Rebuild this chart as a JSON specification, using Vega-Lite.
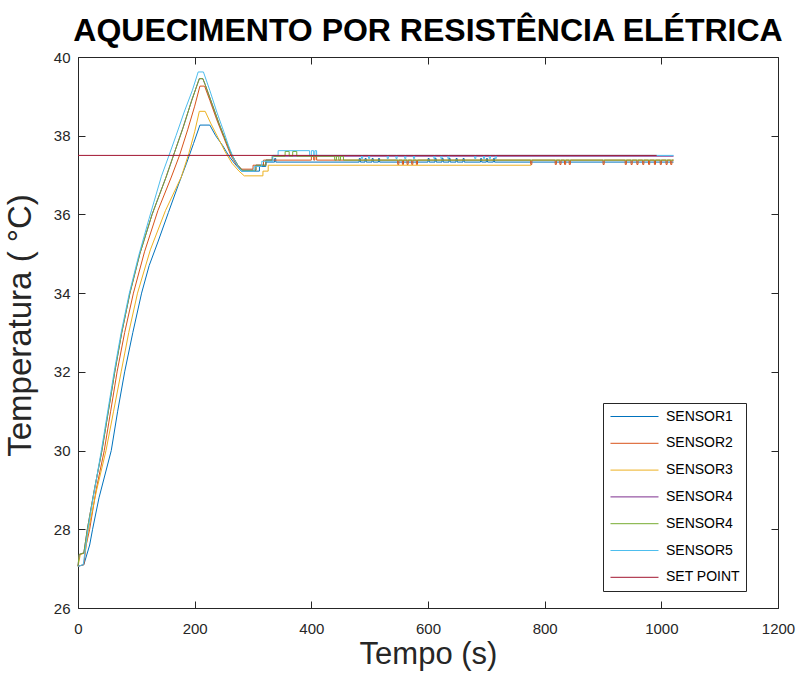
{
  "$schema": "https://vega.github.io/schema/vega-lite/v6.json",
  "width": 700,
  "height": 551,
  "autosize": "none",
  "padding": {"left": 78, "top": 57, "right": 22, "bottom": 65},
  "background": "white",
  "config": {
    "view": {"stroke": null},
    "font": "Liberation Sans",
    "axis": {
      "grid": false,
      "domainColor": "#262626",
      "tickColor": "#262626",
      "labelColor": "#262626",
      "labelFont": "Liberation Sans",
      "labelFontSize": 15,
      "labelFlush": false,
      "format": "d",
      "titleFont": "Liberation Sans",
      "titleFontWeight": "normal",
      "titleColor": "#262626",
      "tickSize": -7,
      "tickWidth": 1,
      "domainWidth": 1
    },
    "legend": {
      "orient": "none",
      "legendX": 525,
      "legendY": 346,
      "symbolType": "M-3.43,0H3.43",
      "symbolSize": 196,
      "symbolStrokeWidth": 1,
      "symbolOffset": 18,
      "labelFont": "Liberation Sans",
      "labelFontSize": 14,
      "labelColor": "#000000",
      "labelOffset": 24,
      "fillColor": "white",
      "strokeColor": "#262626",
      "padding": 6,
      "rowPadding": 11.8
    }
  },
  "title": {
    "text": "AQUECIMENTO POR RESISTÊNCIA ELÉTRICA",
    "font": "Liberation Sans",
    "fontSize": 32,
    "fontWeight": "bold",
    "color": "#000000",
    "anchor": "middle",
    "offset": 2
  },
  "data": {
    "values": [
      {"s": "s1", "t": 0, "v": 27.06}, {"s": "s1", "t": 10, "v": 27.1}, {"s": "s1", "t": 20, "v": 27.6}, {"s": "s1", "t": 25, "v": 28.0},
      {"s": "s1", "t": 36, "v": 28.8}, {"s": "s1", "t": 57, "v": 30.0}, {"s": "s1", "t": 68, "v": 31.0}, {"s": "s1", "t": 80, "v": 32.0},
      {"s": "s1", "t": 94, "v": 33.0}, {"s": "s1", "t": 109, "v": 34.0}, {"s": "s1", "t": 122, "v": 34.7}, {"s": "s1", "t": 137, "v": 35.3},
      {"s": "s1", "t": 155, "v": 36.05}, {"s": "s1", "t": 172, "v": 36.75}, {"s": "s1", "t": 186, "v": 37.3}, {"s": "s1", "t": 198, "v": 37.8},
      {"s": "s1", "t": 209, "v": 38.27}, {"s": "s1", "t": 226, "v": 38.27}, {"s": "s1", "t": 236, "v": 38.0}, {"s": "s1", "t": 248, "v": 37.75},
      {"s": "s1", "t": 258, "v": 37.5}, {"s": "s1", "t": 268, "v": 37.3}, {"s": "s1", "t": 280, "v": 37.1}, {"s": "s1", "t": 311, "v": 37.1},
      {"s": "s1", "t": 311.1, "v": 37.22}, {"s": "s1", "t": 322, "v": 37.22}, {"s": "s1", "t": 322.1, "v": 37.33},
      {"s": "s1", "t": 337, "v": 37.33}, {"s": "s1", "t": 337.1, "v": 37.42}, {"s": "s1", "t": 339, "v": 37.42}, {"s": "s1", "t": 339.1, "v": 37.33},
      {"s": "s1", "t": 482, "v": 37.33}, {"s": "s1", "t": 482.1, "v": 37.42}, {"s": "s1", "t": 484, "v": 37.42}, {"s": "s1", "t": 484.1, "v": 37.33},
      {"s": "s1", "t": 492, "v": 37.33}, {"s": "s1", "t": 492.1, "v": 37.42}, {"s": "s1", "t": 494, "v": 37.42}, {"s": "s1", "t": 494.1, "v": 37.33},
      {"s": "s1", "t": 504, "v": 37.33}, {"s": "s1", "t": 504.1, "v": 37.42}, {"s": "s1", "t": 506, "v": 37.42}, {"s": "s1", "t": 506.1, "v": 37.33},
      {"s": "s1", "t": 515, "v": 37.33}, {"s": "s1", "t": 515.1, "v": 37.42}, {"s": "s1", "t": 517, "v": 37.42}, {"s": "s1", "t": 517.1, "v": 37.33},
      {"s": "s1", "t": 600, "v": 37.33}, {"s": "s1", "t": 600.1, "v": 37.42}, {"s": "s1", "t": 602, "v": 37.42}, {"s": "s1", "t": 602.1, "v": 37.33},
      {"s": "s1", "t": 612, "v": 37.33}, {"s": "s1", "t": 612.1, "v": 37.42}, {"s": "s1", "t": 614, "v": 37.42}, {"s": "s1", "t": 614.1, "v": 37.33},
      {"s": "s1", "t": 624, "v": 37.33}, {"s": "s1", "t": 624.1, "v": 37.42}, {"s": "s1", "t": 626, "v": 37.42}, {"s": "s1", "t": 626.1, "v": 37.33},
      {"s": "s1", "t": 636, "v": 37.33}, {"s": "s1", "t": 636.1, "v": 37.42}, {"s": "s1", "t": 638, "v": 37.42}, {"s": "s1", "t": 638.1, "v": 37.33},
      {"s": "s1", "t": 648, "v": 37.33}, {"s": "s1", "t": 648.1, "v": 37.42}, {"s": "s1", "t": 650, "v": 37.42}, {"s": "s1", "t": 650.1, "v": 37.33},
      {"s": "s1", "t": 660, "v": 37.33}, {"s": "s1", "t": 660.1, "v": 37.42}, {"s": "s1", "t": 662, "v": 37.42}, {"s": "s1", "t": 662.1, "v": 37.33},
      {"s": "s1", "t": 690, "v": 37.33}, {"s": "s1", "t": 690.1, "v": 37.42}, {"s": "s1", "t": 692, "v": 37.42}, {"s": "s1", "t": 692.1, "v": 37.33},
      {"s": "s1", "t": 700, "v": 37.33}, {"s": "s1", "t": 700.1, "v": 37.42}, {"s": "s1", "t": 702, "v": 37.42}, {"s": "s1", "t": 702.1, "v": 37.33},
      {"s": "s1", "t": 712, "v": 37.33}, {"s": "s1", "t": 712.1, "v": 37.42}, {"s": "s1", "t": 714, "v": 37.42}, {"s": "s1", "t": 714.1, "v": 37.33},
      {"s": "s1", "t": 1021, "v": 37.33},

      {"s": "s2", "t": 0, "v": 27.06}, {"s": "s2", "t": 10, "v": 27.1}, {"s": "s2", "t": 14, "v": 27.6}, {"s": "s2", "t": 20, "v": 28.0},
      {"s": "s2", "t": 31, "v": 29.0}, {"s": "s2", "t": 45, "v": 30.0}, {"s": "s2", "t": 56, "v": 31.0}, {"s": "s2", "t": 67, "v": 32.0},
      {"s": "s2", "t": 80, "v": 33.0}, {"s": "s2", "t": 95, "v": 34.0}, {"s": "s2", "t": 114, "v": 35.05}, {"s": "s2", "t": 137, "v": 36.1},
      {"s": "s2", "t": 160, "v": 36.95}, {"s": "s2", "t": 174, "v": 37.5}, {"s": "s2", "t": 188, "v": 38.15}, {"s": "s2", "t": 200, "v": 38.75},
      {"s": "s2", "t": 209, "v": 39.26}, {"s": "s2", "t": 217, "v": 39.26}, {"s": "s2", "t": 226, "v": 38.9}, {"s": "s2", "t": 238, "v": 38.4},
      {"s": "s2", "t": 250, "v": 37.95}, {"s": "s2", "t": 262, "v": 37.5}, {"s": "s2", "t": 272, "v": 37.25}, {"s": "s2", "t": 280, "v": 37.15},
      {"s": "s2", "t": 300, "v": 37.15}, {"s": "s2", "t": 300.1, "v": 37.25}, {"s": "s2", "t": 318, "v": 37.25}, {"s": "s2", "t": 318.1, "v": 37.38},
      {"s": "s2", "t": 400, "v": 37.38}, {"s": "s2", "t": 400.1, "v": 37.48}, {"s": "s2", "t": 404, "v": 37.48}, {"s": "s2", "t": 404.1, "v": 37.38},
      {"s": "s2", "t": 406, "v": 37.38}, {"s": "s2", "t": 406.1, "v": 37.48}, {"s": "s2", "t": 409, "v": 37.48}, {"s": "s2", "t": 409.1, "v": 37.38},
      {"s": "s2", "t": 548, "v": 37.38}, {"s": "s2", "t": 548.1, "v": 37.27}, {"s": "s2", "t": 550, "v": 37.27}, {"s": "s2", "t": 550.1, "v": 37.38},
      {"s": "s2", "t": 556, "v": 37.38}, {"s": "s2", "t": 556.1, "v": 37.27}, {"s": "s2", "t": 558, "v": 37.27}, {"s": "s2", "t": 558.1, "v": 37.38},
      {"s": "s2", "t": 564, "v": 37.38}, {"s": "s2", "t": 564.1, "v": 37.27}, {"s": "s2", "t": 566, "v": 37.27}, {"s": "s2", "t": 566.1, "v": 37.38},
      {"s": "s2", "t": 572, "v": 37.38}, {"s": "s2", "t": 572.1, "v": 37.27}, {"s": "s2", "t": 574, "v": 37.27}, {"s": "s2", "t": 574.1, "v": 37.38},
      {"s": "s2", "t": 580, "v": 37.38}, {"s": "s2", "t": 580.1, "v": 37.27}, {"s": "s2", "t": 582, "v": 37.27}, {"s": "s2", "t": 582.1, "v": 37.38},
      {"s": "s2", "t": 776, "v": 37.38}, {"s": "s2", "t": 776.1, "v": 37.27}, {"s": "s2", "t": 778, "v": 37.27}, {"s": "s2", "t": 778.1, "v": 37.38},
      {"s": "s2", "t": 818, "v": 37.38}, {"s": "s2", "t": 818.1, "v": 37.27}, {"s": "s2", "t": 820, "v": 37.27}, {"s": "s2", "t": 820.1, "v": 37.38},
      {"s": "s2", "t": 826, "v": 37.38}, {"s": "s2", "t": 826.1, "v": 37.27}, {"s": "s2", "t": 828, "v": 37.27}, {"s": "s2", "t": 828.1, "v": 37.38},
      {"s": "s2", "t": 834, "v": 37.38}, {"s": "s2", "t": 834.1, "v": 37.27}, {"s": "s2", "t": 836, "v": 37.27}, {"s": "s2", "t": 836.1, "v": 37.38},
      {"s": "s2", "t": 842, "v": 37.38}, {"s": "s2", "t": 842.1, "v": 37.27}, {"s": "s2", "t": 844, "v": 37.27}, {"s": "s2", "t": 844.1, "v": 37.38},
      {"s": "s2", "t": 900, "v": 37.38}, {"s": "s2", "t": 900.1, "v": 37.27}, {"s": "s2", "t": 902, "v": 37.27}, {"s": "s2", "t": 902.1, "v": 37.38},
      {"s": "s2", "t": 938, "v": 37.38}, {"s": "s2", "t": 938.1, "v": 37.27}, {"s": "s2", "t": 940, "v": 37.27}, {"s": "s2", "t": 940.1, "v": 37.38},
      {"s": "s2", "t": 948, "v": 37.38}, {"s": "s2", "t": 948.1, "v": 37.27}, {"s": "s2", "t": 950, "v": 37.27}, {"s": "s2", "t": 950.1, "v": 37.38},
      {"s": "s2", "t": 958, "v": 37.38}, {"s": "s2", "t": 958.1, "v": 37.27}, {"s": "s2", "t": 960, "v": 37.27}, {"s": "s2", "t": 960.1, "v": 37.38},
      {"s": "s2", "t": 968, "v": 37.38}, {"s": "s2", "t": 968.1, "v": 37.27}, {"s": "s2", "t": 970, "v": 37.27}, {"s": "s2", "t": 970.1, "v": 37.38},
      {"s": "s2", "t": 978, "v": 37.38}, {"s": "s2", "t": 978.1, "v": 37.27}, {"s": "s2", "t": 980, "v": 37.27}, {"s": "s2", "t": 980.1, "v": 37.38},
      {"s": "s2", "t": 988, "v": 37.38}, {"s": "s2", "t": 988.1, "v": 37.27}, {"s": "s2", "t": 990, "v": 37.27}, {"s": "s2", "t": 990.1, "v": 37.38},
      {"s": "s2", "t": 998, "v": 37.38}, {"s": "s2", "t": 998.1, "v": 37.27}, {"s": "s2", "t": 1000, "v": 37.27}, {"s": "s2", "t": 1000.1, "v": 37.38},
      {"s": "s2", "t": 1008, "v": 37.38}, {"s": "s2", "t": 1008.1, "v": 37.27}, {"s": "s2", "t": 1010, "v": 37.27}, {"s": "s2", "t": 1010.1, "v": 37.38},
      {"s": "s2", "t": 1016, "v": 37.38}, {"s": "s2", "t": 1016.1, "v": 37.27}, {"s": "s2", "t": 1018, "v": 37.27}, {"s": "s2", "t": 1018.1, "v": 37.38},
      {"s": "s2", "t": 1021, "v": 37.38},

      {"s": "s3", "t": 0, "v": 27.06}, {"s": "s3", "t": 4, "v": 27.36}, {"s": "s3", "t": 12, "v": 27.4}, {"s": "s3", "t": 18, "v": 28.0},
      {"s": "s3", "t": 32, "v": 29.0}, {"s": "s3", "t": 48, "v": 30.0}, {"s": "s3", "t": 61, "v": 31.0}, {"s": "s3", "t": 74, "v": 32.0},
      {"s": "s3", "t": 87, "v": 33.0}, {"s": "s3", "t": 102, "v": 34.0}, {"s": "s3", "t": 124, "v": 35.1}, {"s": "s3", "t": 150, "v": 36.1},
      {"s": "s3", "t": 177, "v": 36.95}, {"s": "s3", "t": 190, "v": 37.55}, {"s": "s3", "t": 200, "v": 38.1}, {"s": "s3", "t": 208, "v": 38.62},
      {"s": "s3", "t": 218, "v": 38.62}, {"s": "s3", "t": 228, "v": 38.3}, {"s": "s3", "t": 240, "v": 37.95}, {"s": "s3", "t": 252, "v": 37.6},
      {"s": "s3", "t": 264, "v": 37.3}, {"s": "s3", "t": 276, "v": 37.1}, {"s": "s3", "t": 285, "v": 36.98}, {"s": "s3", "t": 317, "v": 36.98},
      {"s": "s3", "t": 317.1, "v": 37.1}, {"s": "s3", "t": 326, "v": 37.1}, {"s": "s3", "t": 326.1, "v": 37.25}, {"s": "s3", "t": 777, "v": 37.25},

      {"s": "s4a", "t": 0, "v": 27.06}, {"s": "s4a", "t": 2, "v": 27.36}, {"s": "s4a", "t": 10, "v": 27.4}, {"s": "s4a", "t": 16, "v": 28.0},
      {"s": "s4a", "t": 28, "v": 29.0}, {"s": "s4a", "t": 41, "v": 30.0}, {"s": "s4a", "t": 52, "v": 31.0}, {"s": "s4a", "t": 63, "v": 32.0},
      {"s": "s4a", "t": 75, "v": 33.0}, {"s": "s4a", "t": 89, "v": 34.0}, {"s": "s4a", "t": 106, "v": 35.0}, {"s": "s4a", "t": 127, "v": 36.0},
      {"s": "s4a", "t": 151, "v": 36.95}, {"s": "s4a", "t": 166, "v": 37.6}, {"s": "s4a", "t": 180, "v": 38.2}, {"s": "s4a", "t": 195, "v": 38.9},
      {"s": "s4a", "t": 208, "v": 39.45}, {"s": "s4a", "t": 214, "v": 39.45}, {"s": "s4a", "t": 218, "v": 39.3}, {"s": "s4a", "t": 230, "v": 38.8},
      {"s": "s4a", "t": 242, "v": 38.3}, {"s": "s4a", "t": 254, "v": 37.85}, {"s": "s4a", "t": 264, "v": 37.5}, {"s": "s4a", "t": 274, "v": 37.25},
      {"s": "s4a", "t": 282, "v": 37.12}, {"s": "s4a", "t": 305, "v": 37.12}, {"s": "s4a", "t": 305.1, "v": 37.25}, {"s": "s4a", "t": 322, "v": 37.25},
      {"s": "s4a", "t": 322.1, "v": 37.38}, {"s": "s4a", "t": 333, "v": 37.38}, {"s": "s4a", "t": 333.1, "v": 37.48}, {"s": "s4a", "t": 1021, "v": 37.48},

      {"s": "s4b", "t": 0, "v": 27.06}, {"s": "s4b", "t": 2, "v": 27.36}, {"s": "s4b", "t": 10, "v": 27.4}, {"s": "s4b", "t": 16, "v": 28.0},
      {"s": "s4b", "t": 28, "v": 29.0}, {"s": "s4b", "t": 41, "v": 30.0}, {"s": "s4b", "t": 52, "v": 31.0}, {"s": "s4b", "t": 63, "v": 32.0},
      {"s": "s4b", "t": 75, "v": 33.0}, {"s": "s4b", "t": 89, "v": 34.0}, {"s": "s4b", "t": 106, "v": 35.0}, {"s": "s4b", "t": 127, "v": 36.0},
      {"s": "s4b", "t": 151, "v": 36.95}, {"s": "s4b", "t": 166, "v": 37.6}, {"s": "s4b", "t": 180, "v": 38.2}, {"s": "s4b", "t": 195, "v": 38.9},
      {"s": "s4b", "t": 208, "v": 39.45}, {"s": "s4b", "t": 214, "v": 39.45}, {"s": "s4b", "t": 218, "v": 39.3}, {"s": "s4b", "t": 230, "v": 38.8},
      {"s": "s4b", "t": 242, "v": 38.3}, {"s": "s4b", "t": 254, "v": 37.85}, {"s": "s4b", "t": 264, "v": 37.5}, {"s": "s4b", "t": 274, "v": 37.25},
      {"s": "s4b", "t": 282, "v": 37.12}, {"s": "s4b", "t": 305, "v": 37.12}, {"s": "s4b", "t": 305.1, "v": 37.25}, {"s": "s4b", "t": 322, "v": 37.25},
      {"s": "s4b", "t": 322.1, "v": 37.38}, {"s": "s4b", "t": 333, "v": 37.38}, {"s": "s4b", "t": 333.1, "v": 37.48}, {"s": "s4b", "t": 355, "v": 37.48},
      {"s": "s4b", "t": 355.1, "v": 37.6}, {"s": "s4b", "t": 362, "v": 37.6}, {"s": "s4b", "t": 362.1, "v": 37.48}, {"s": "s4b", "t": 368, "v": 37.48},
      {"s": "s4b", "t": 368.1, "v": 37.6}, {"s": "s4b", "t": 375, "v": 37.6}, {"s": "s4b", "t": 375.1, "v": 37.48}, {"s": "s4b", "t": 440, "v": 37.48},
      {"s": "s4b", "t": 440.1, "v": 37.38}, {"s": "s4b", "t": 443, "v": 37.38}, {"s": "s4b", "t": 443.1, "v": 37.48}, {"s": "s4b", "t": 447, "v": 37.48},
      {"s": "s4b", "t": 447.1, "v": 37.38}, {"s": "s4b", "t": 450, "v": 37.38}, {"s": "s4b", "t": 450.1, "v": 37.48}, {"s": "s4b", "t": 455, "v": 37.48},
      {"s": "s4b", "t": 455.1, "v": 37.38}, {"s": "s4b", "t": 1021, "v": 37.38},

      {"s": "s5", "t": 0, "v": 27.06}, {"s": "s5", "t": 9, "v": 27.1}, {"s": "s5", "t": 17, "v": 28.0}, {"s": "s5", "t": 26, "v": 28.8},
      {"s": "s5", "t": 40, "v": 30.0}, {"s": "s5", "t": 51, "v": 31.0}, {"s": "s5", "t": 62, "v": 32.0}, {"s": "s5", "t": 74, "v": 33.0},
      {"s": "s5", "t": 88, "v": 34.0}, {"s": "s5", "t": 104, "v": 34.95}, {"s": "s5", "t": 122, "v": 35.9}, {"s": "s5", "t": 143, "v": 36.97},
      {"s": "s5", "t": 156, "v": 37.5}, {"s": "s5", "t": 168, "v": 38.0}, {"s": "s5", "t": 182, "v": 38.6}, {"s": "s5", "t": 196, "v": 39.15},
      {"s": "s5", "t": 206, "v": 39.62}, {"s": "s5", "t": 215, "v": 39.62}, {"s": "s5", "t": 226, "v": 39.15}, {"s": "s5", "t": 238, "v": 38.6},
      {"s": "s5", "t": 250, "v": 38.1}, {"s": "s5", "t": 258, "v": 37.75}, {"s": "s5", "t": 266, "v": 37.45}, {"s": "s5", "t": 274, "v": 37.22},
      {"s": "s5", "t": 280, "v": 37.1}, {"s": "s5", "t": 302, "v": 37.1}, {"s": "s5", "t": 302.1, "v": 37.22}, {"s": "s5", "t": 315, "v": 37.22},
      {"s": "s5", "t": 315.1, "v": 37.35}, {"s": "s5", "t": 334, "v": 37.35}, {"s": "s5", "t": 334.1, "v": 37.5}, {"s": "s5", "t": 343, "v": 37.5},
      {"s": "s5", "t": 343.1, "v": 37.62}, {"s": "s5", "t": 397, "v": 37.62}, {"s": "s5", "t": 397.1, "v": 37.5}, {"s": "s5", "t": 400, "v": 37.5},
      {"s": "s5", "t": 400.1, "v": 37.62}, {"s": "s5", "t": 404, "v": 37.62}, {"s": "s5", "t": 404.1, "v": 37.5}, {"s": "s5", "t": 406, "v": 37.5},
      {"s": "s5", "t": 406.1, "v": 37.62}, {"s": "s5", "t": 409, "v": 37.62}, {"s": "s5", "t": 409.1, "v": 37.5},
      {"s": "s5", "t": 486, "v": 37.5}, {"s": "s5", "t": 486.1, "v": 37.42}, {"s": "s5", "t": 488, "v": 37.42}, {"s": "s5", "t": 488.1, "v": 37.5},
      {"s": "s5", "t": 498, "v": 37.5}, {"s": "s5", "t": 498.1, "v": 37.42}, {"s": "s5", "t": 500, "v": 37.42}, {"s": "s5", "t": 500.1, "v": 37.5},
      {"s": "s5", "t": 530, "v": 37.5}, {"s": "s5", "t": 530.1, "v": 37.42}, {"s": "s5", "t": 532, "v": 37.42}, {"s": "s5", "t": 532.1, "v": 37.5},
      {"s": "s5", "t": 545, "v": 37.5}, {"s": "s5", "t": 545.1, "v": 37.42}, {"s": "s5", "t": 547, "v": 37.42}, {"s": "s5", "t": 547.1, "v": 37.5},
      {"s": "s5", "t": 560, "v": 37.5}, {"s": "s5", "t": 560.1, "v": 37.42}, {"s": "s5", "t": 562, "v": 37.42}, {"s": "s5", "t": 562.1, "v": 37.5},
      {"s": "s5", "t": 575, "v": 37.5}, {"s": "s5", "t": 575.1, "v": 37.42}, {"s": "s5", "t": 577, "v": 37.42}, {"s": "s5", "t": 577.1, "v": 37.5},
      {"s": "s5", "t": 610, "v": 37.5}, {"s": "s5", "t": 610.1, "v": 37.42}, {"s": "s5", "t": 612, "v": 37.42}, {"s": "s5", "t": 612.1, "v": 37.5},
      {"s": "s5", "t": 622, "v": 37.5}, {"s": "s5", "t": 622.1, "v": 37.42}, {"s": "s5", "t": 624, "v": 37.42}, {"s": "s5", "t": 624.1, "v": 37.5},
      {"s": "s5", "t": 634, "v": 37.5}, {"s": "s5", "t": 634.1, "v": 37.42}, {"s": "s5", "t": 636, "v": 37.42}, {"s": "s5", "t": 636.1, "v": 37.5},
      {"s": "s5", "t": 680, "v": 37.5}, {"s": "s5", "t": 680.1, "v": 37.42}, {"s": "s5", "t": 682, "v": 37.42}, {"s": "s5", "t": 682.1, "v": 37.5},
      {"s": "s5", "t": 695, "v": 37.5}, {"s": "s5", "t": 695.1, "v": 37.42}, {"s": "s5", "t": 697, "v": 37.42}, {"s": "s5", "t": 697.1, "v": 37.5},
      {"s": "s5", "t": 705, "v": 37.5}, {"s": "s5", "t": 705.1, "v": 37.42}, {"s": "s5", "t": 707, "v": 37.42}, {"s": "s5", "t": 707.1, "v": 37.5},
      {"s": "s5", "t": 715, "v": 37.5}, {"s": "s5", "t": 715.1, "v": 37.42}, {"s": "s5", "t": 717, "v": 37.42}, {"s": "s5", "t": 717.1, "v": 37.5},
      {"s": "s5", "t": 1021, "v": 37.5},

      {"s": "sp", "t": 0, "v": 37.5}, {"s": "sp", "t": 992, "v": 37.5}
    ]
  },
  "layer": [
    {
      "mark": {"type": "line", "strokeWidth": 1, "interpolate": "linear"},
      "encoding": {
        "x": {
          "field": "t",
          "type": "quantitative",
          "scale": {"domain": [0, 1200], "nice": false, "zero": false},
          "axis": {
            "orient": "bottom",
            "values": [0, 200, 400, 600, 800, 1000, 1200],
            "labelPadding": 20,
            "title": "Tempo (s)",
            "titleFontSize": 31,
            "titleBaseline": "alphabetic",
            "titleY": 55
          }
        },
        "y": {
          "field": "v",
          "type": "quantitative",
          "scale": {"domain": [26, 40], "nice": false, "zero": false},
          "axis": {
            "orient": "left",
            "values": [26, 28, 30, 32, 34, 36, 38, 40],
            "labelPadding": 15,
            "title": "Temperatura ( °C)",
            "titleFontSize": 33,
            "titleBaseline": "alphabetic",
            "titleX": -48,
            "titleY": 268,
            "titleAngle": -90
          }
        },
        "color": {
          "field": "s",
          "type": "nominal",
          "scale": {
            "domain": ["s1", "s2", "s3", "s4a", "s4b", "s5", "sp"],
            "range": ["#0072BD", "#D95319", "#EDB120", "#7E2F8E", "#77AC30", "#4DBEEE", "#A2142F"]
          },
          "legend": {
            "title": null,
            "labelExpr": "['SENSOR1', 'SENSOR2', 'SENSOR3', 'SENSOR4', 'SENSOR4', 'SENSOR5', 'SET POINT'][indexof(['s1', 's2', 's3', 's4a', 's4b', 's5', 'sp'], datum.value)]"
          }
        }
      }
    },
    {
      "mark": {"type": "line", "opacity": 0},
      "encoding": {
        "x": {
          "field": "t",
          "type": "quantitative",
          "axis": {"orient": "top", "values": [0, 200, 400, 600, 800, 1000, 1200], "labels": false, "title": null}
        },
        "y": {
          "field": "v",
          "type": "quantitative",
          "axis": {"orient": "right", "values": [26, 28, 30, 32, 34, 36, 38, 40], "labels": false, "title": null}
        }
      }
    }
  ],
  "resolve": {"axis": {"x": "independent", "y": "independent"}}
}
